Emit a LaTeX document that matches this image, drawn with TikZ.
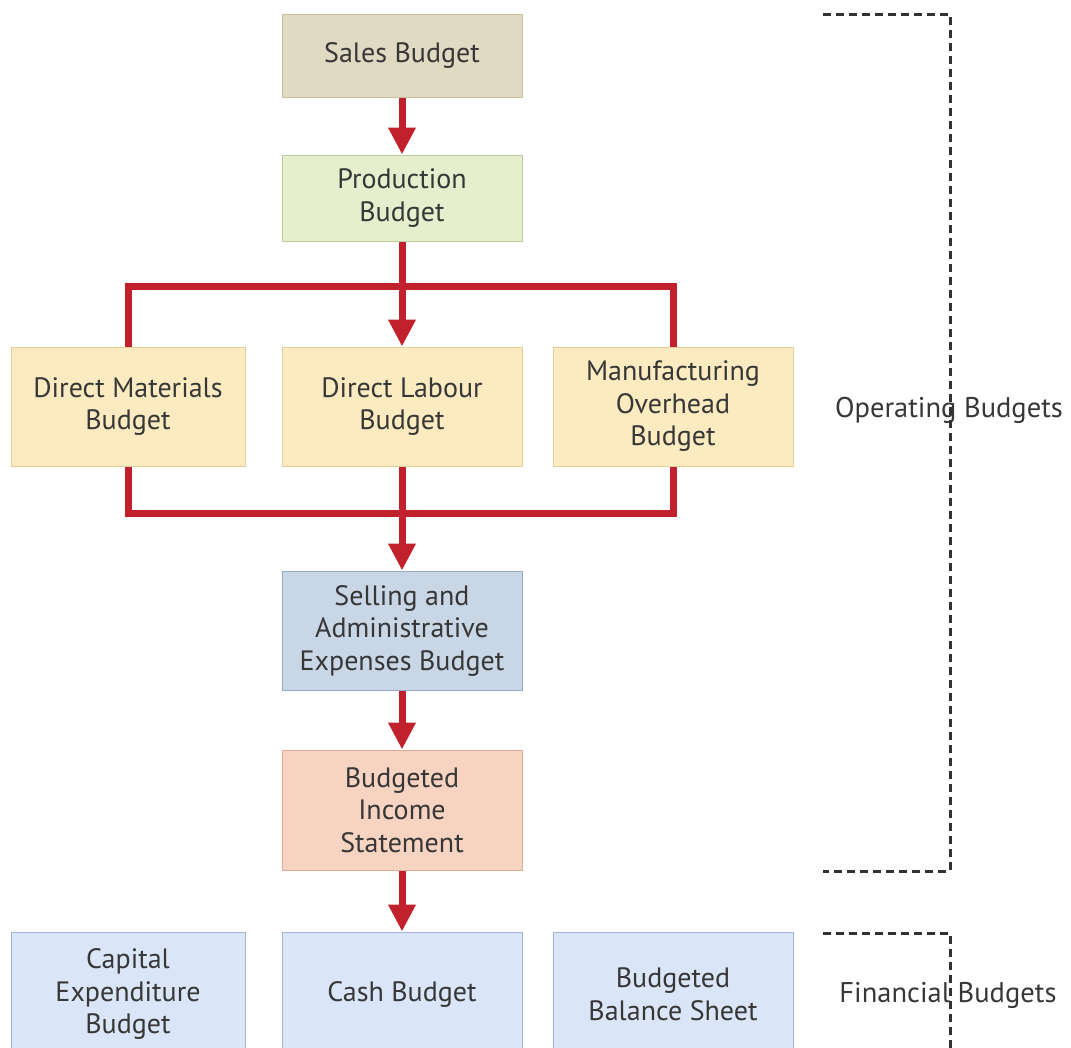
\documentclass[tikz,border=0pt]{standalone}
\usepackage{fontspec}
\setmainfont{PT Sans}
\usetikzlibrary{arrows.meta}

\definecolor{salesfill}{RGB}{225,218,194}
\definecolor{salesline}{RGB}{200,190,160}
\definecolor{prodfill}{RGB}{229,239,205}
\definecolor{prodline}{RGB}{190,205,160}
\definecolor{opfill}{RGB}{252,234,192}
\definecolor{opline}{RGB}{226,206,152}
\definecolor{sellfill}{RGB}{201,214,230}
\definecolor{sellline}{RGB}{150,170,196}
\definecolor{incfill}{RGB}{247,211,193}
\definecolor{incline}{RGB}{222,172,150}
\definecolor{finfill}{RGB}{218,229,247}
\definecolor{finline}{RGB}{160,180,212}
\definecolor{flowred}{RGB}{193,32,45}
\definecolor{txt}{RGB}{55,55,55}
\definecolor{bracket}{RGB}{50,50,50}

\tikzset{
  budget/.style={draw, line width=1pt, minimum width=240pt, align=center,
    text=txt, font=\fontsize{28}{32.5}\selectfont, inner sep=0pt},
  flow/.style={draw=flowred, line width=7pt, line join=miter},
  flowarrow/.style={flow, -{Triangle[width=26pt,length=27pt]}},
  bracketline/.style={draw=bracket, line width=3pt, dash pattern=on 8pt off 5pt},
  grouplabel/.style={text=txt, font=\fontsize{28.5}{32.5}\selectfont, inner sep=0pt}
}

\begin{document}
\begin{tikzpicture}[x=1pt,y=-1pt]
\useasboundingbox (0,0) rectangle (1071,1047);
\clip (0,0) rectangle (1071,1047);

% budget boxes
\node[budget, fill=salesfill, draw=salesline, minimum height=83pt] (sales) at (402,55.5) {Sales Budget};
\node[budget, fill=prodfill, draw=prodline, minimum height=86pt] (prod) at (402,198) {Production\\Budget};
\node[budget, fill=opfill, draw=opline, minimum width=234pt, minimum height=119pt] (dm) at (128,406.5) {Direct Materials\\Budget};
\node[budget, fill=opfill, draw=opline, minimum height=119pt] (dl) at (402,406.5) {Direct Labour\\Budget};
\node[budget, fill=opfill, draw=opline, minimum height=119pt] (mo) at (673,406.5) {Manufacturing\\Overhead\\Budget};
\node[budget, fill=sellfill, draw=sellline, minimum height=119pt] (sa) at (402,630.5) {Selling and\\Administrative\\Expenses Budget};
\node[budget, fill=incfill, draw=incline, minimum height=120pt] (inc) at (402,810) {Budgeted\\Income\\Statement};
\node[budget, fill=finfill, draw=finline, minimum width=234pt, minimum height=124pt] (cap) at (128,994) {Capital\\Expenditure\\Budget};
\node[budget, fill=finfill, draw=finline, minimum height=124pt] (cash) at (402,994) {Cash Budget};
\node[budget, fill=finfill, draw=finline, minimum height=124pt] (bal) at (673,994) {Budgeted\\Balance Sheet};

% branch junctions
\coordinate (split) at (402,286);
\coordinate (merge) at (402,513);

% flow connectors
\draw[flowarrow] (sales) -- (prod);
\draw[flow] (dm.north) |- (split) -| (mo.north);
\draw[flowarrow] (prod) -- (dl);
\draw[flow] (dm.south) |- (merge) -| (mo.south);
\draw[flowarrow] (dl) -- (sa);
\draw[flowarrow] (sa) -- (inc);
\draw[flowarrow] (inc) -- (cash);

% group brackets
\coordinate (opA) at (823,14);
\coordinate (opB) at (950,14);
\coordinate (opC) at (950,871);
\coordinate (opD) at (823,871);
\draw[bracketline] (opA) -- (opB) -- (opC) -- (opD);
\node[grouplabel] (oplabel) at (949,410) {Operating Budgets};

\coordinate (fiA) at (823,933);
\coordinate (fiB) at (950,933);
\coordinate (fiC) at (950,1060);
\draw[bracketline] (fiA) -- (fiB) -- (fiC);
\node[grouplabel] (filabel) at (948,995) {Financial Budgets};
\end{tikzpicture}
\end{document}
